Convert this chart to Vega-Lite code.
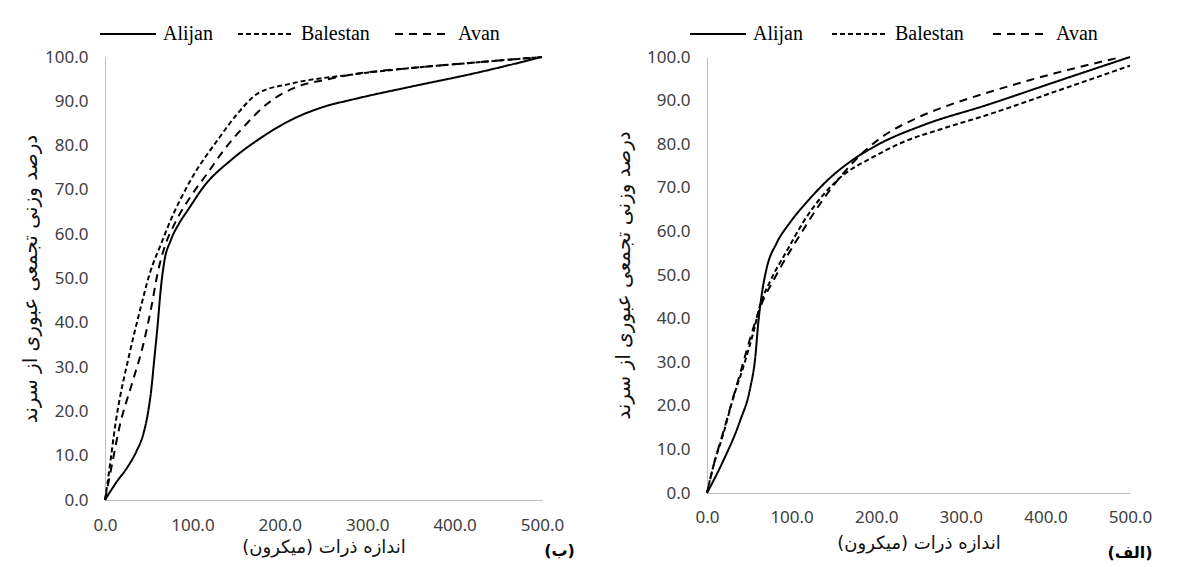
{
  "$schema": "https://vega.github.io/schema/vega-lite/v6.json",
  "background": "white",
  "padding": {"left": 20, "top": 5, "right": 0, "bottom": 0},
  "datasets": {
    "left": [
      {"series": "Alijan", "x": 0, "y": 0},
      {"series": "Alijan", "x": 13, "y": 4},
      {"series": "Alijan", "x": 26, "y": 7.5},
      {"series": "Alijan", "x": 36, "y": 11},
      {"series": "Alijan", "x": 44, "y": 15},
      {"series": "Alijan", "x": 49, "y": 19.5},
      {"series": "Alijan", "x": 53, "y": 25},
      {"series": "Alijan", "x": 56, "y": 31},
      {"series": "Alijan", "x": 60, "y": 39},
      {"series": "Alijan", "x": 64, "y": 48},
      {"series": "Alijan", "x": 68, "y": 54},
      {"series": "Alijan", "x": 75, "y": 58.5},
      {"series": "Alijan", "x": 85, "y": 62.5},
      {"series": "Alijan", "x": 95, "y": 65.5},
      {"series": "Alijan", "x": 114, "y": 71},
      {"series": "Alijan", "x": 144, "y": 76.7},
      {"series": "Alijan", "x": 175, "y": 81.3},
      {"series": "Alijan", "x": 213, "y": 85.8},
      {"series": "Alijan", "x": 251, "y": 88.8},
      {"series": "Alijan", "x": 281, "y": 90.3},
      {"series": "Alijan", "x": 350, "y": 93.3},
      {"series": "Alijan", "x": 420, "y": 96.2},
      {"series": "Alijan", "x": 500, "y": 100},
      {"series": "Balestan", "x": 0, "y": 0},
      {"series": "Balestan", "x": 3, "y": 4},
      {"series": "Balestan", "x": 12.6, "y": 18},
      {"series": "Balestan", "x": 28, "y": 33},
      {"series": "Balestan", "x": 39, "y": 42},
      {"series": "Balestan", "x": 51, "y": 51},
      {"series": "Balestan", "x": 66, "y": 58.7},
      {"series": "Balestan", "x": 72, "y": 61.7},
      {"series": "Balestan", "x": 98, "y": 72.2},
      {"series": "Balestan", "x": 129, "y": 81.3},
      {"series": "Balestan", "x": 152, "y": 87.3},
      {"series": "Balestan", "x": 175, "y": 91.8},
      {"series": "Balestan", "x": 213, "y": 94},
      {"series": "Balestan", "x": 281, "y": 96},
      {"series": "Balestan", "x": 350, "y": 97.5},
      {"series": "Balestan", "x": 420, "y": 98.7},
      {"series": "Balestan", "x": 500, "y": 100},
      {"series": "Avan", "x": 0, "y": 0},
      {"series": "Avan", "x": 8, "y": 8},
      {"series": "Avan", "x": 16, "y": 16},
      {"series": "Avan", "x": 32, "y": 27},
      {"series": "Avan", "x": 43, "y": 34.5},
      {"series": "Avan", "x": 53, "y": 43.5},
      {"series": "Avan", "x": 60, "y": 51},
      {"series": "Avan", "x": 68, "y": 57},
      {"series": "Avan", "x": 80, "y": 62.5},
      {"series": "Avan", "x": 98, "y": 68.5},
      {"series": "Avan", "x": 117, "y": 73.7},
      {"series": "Avan", "x": 136, "y": 79},
      {"series": "Avan", "x": 159, "y": 84.3},
      {"series": "Avan", "x": 186, "y": 89.5},
      {"series": "Avan", "x": 220, "y": 93.3},
      {"series": "Avan", "x": 251, "y": 94.8},
      {"series": "Avan", "x": 281, "y": 96},
      {"series": "Avan", "x": 350, "y": 97.5},
      {"series": "Avan", "x": 420, "y": 98.7},
      {"series": "Avan", "x": 500, "y": 100}
    ],
    "right": [
      {"series": "Alijan", "x": 0, "y": 0},
      {"series": "Alijan", "x": 19, "y": 7.3},
      {"series": "Alijan", "x": 39, "y": 16.5},
      {"series": "Alijan", "x": 51, "y": 24},
      {"series": "Alijan", "x": 57, "y": 31},
      {"series": "Alijan", "x": 60.6, "y": 39},
      {"series": "Alijan", "x": 64.7, "y": 45.5},
      {"series": "Alijan", "x": 70.6, "y": 51.6},
      {"series": "Alijan", "x": 82, "y": 57.2},
      {"series": "Alijan", "x": 98, "y": 62},
      {"series": "Alijan", "x": 122, "y": 67.6},
      {"series": "Alijan", "x": 145, "y": 72.2},
      {"series": "Alijan", "x": 173, "y": 76.5},
      {"series": "Alijan", "x": 201, "y": 79.8},
      {"series": "Alijan", "x": 256, "y": 84.4},
      {"series": "Alijan", "x": 331, "y": 89},
      {"series": "Alijan", "x": 415, "y": 94.5},
      {"series": "Alijan", "x": 500, "y": 100},
      {"series": "Balestan", "x": 0, "y": 0},
      {"series": "Balestan", "x": 7, "y": 5.8},
      {"series": "Balestan", "x": 19, "y": 13.4},
      {"series": "Balestan", "x": 31, "y": 21.8},
      {"series": "Balestan", "x": 45, "y": 30.2},
      {"series": "Balestan", "x": 55, "y": 37},
      {"series": "Balestan", "x": 63, "y": 43.2},
      {"series": "Balestan", "x": 74.5, "y": 48.5},
      {"series": "Balestan", "x": 94, "y": 55.4},
      {"series": "Balestan", "x": 114, "y": 62.2},
      {"series": "Balestan", "x": 137.5, "y": 68.4},
      {"series": "Balestan", "x": 161, "y": 72.9},
      {"series": "Balestan", "x": 193, "y": 76.7},
      {"series": "Balestan", "x": 232, "y": 80.5},
      {"series": "Balestan", "x": 279, "y": 83.6},
      {"series": "Balestan", "x": 331, "y": 86.7},
      {"series": "Balestan", "x": 415, "y": 92.3},
      {"series": "Balestan", "x": 500, "y": 98},
      {"series": "Avan", "x": 0, "y": 0},
      {"series": "Avan", "x": 8, "y": 6.5},
      {"series": "Avan", "x": 20, "y": 14.5},
      {"series": "Avan", "x": 40, "y": 28},
      {"series": "Avan", "x": 55, "y": 38},
      {"series": "Avan", "x": 62.6, "y": 42.4},
      {"series": "Avan", "x": 82, "y": 50},
      {"series": "Avan", "x": 110, "y": 59.2},
      {"series": "Avan", "x": 137.5, "y": 67.4},
      {"series": "Avan", "x": 161, "y": 73.3},
      {"series": "Avan", "x": 185, "y": 78.2},
      {"series": "Avan", "x": 208, "y": 81.8},
      {"series": "Avan", "x": 248, "y": 86},
      {"series": "Avan", "x": 291, "y": 89.3},
      {"series": "Avan", "x": 331, "y": 91.8},
      {"series": "Avan", "x": 410, "y": 96.2},
      {"series": "Avan", "x": 490, "y": 100}
    ]
  },
  "spacing": 38,
  "hconcat": [
    {
      "width": 437,
      "height": 443,
      "layer": [
        {
          "data": {"name": "left"},
          "mark": {"type": "line", "interpolate": "monotone", "color": "black", "strokeWidth": 2},
          "encoding": {
            "x": {"field": "x", "type": "quantitative", "scale": {"domain": [0, 500], "nice": false},
              "axis": {"values": [0, 100, 200, 300, 400, 500], "format": ".1f", "title": "اندازه ذرات (میکرون)", "labelPadding": 17, "titlePadding": 5}},
            "y": {"field": "y", "type": "quantitative", "scale": {"domain": [0, 100], "nice": false},
              "axis": {"values": [0, 10, 20, 30, 40, 50, 60, 70, 80, 90, 100], "format": ".1f", "title": "درصد وزنی تجمعی عبوری از سرند", "labelPadding": 17, "titlePadding": 4}},
            "strokeDash": {"field": "series", "type": "nominal",
              "scale": {"domain": ["Alijan", "Balestan", "Avan"], "range": [[1, 0], [5, 3], [8, 6]]},
              "legend": {"orient": "none", "legendX": -6, "legendY": -52, "direction": "horizontal", "columns": 3, "title": null, "columnPadding": 21}},
            "order": {"field": "x", "type": "quantitative"}
          }
        },
        {
          "data": {"values": [{"label": "(ب)"}]},
          "mark": {"type": "text", "font": "DejaVu Sans", "fontSize": 16, "fontWeight": "bold", "color": "black", "align": "center", "baseline": "middle"},
          "encoding": {
            "x": {"datum": 520, "type": "quantitative"},
            "y": {"datum": -11.5, "type": "quantitative"},
            "text": {"field": "label"}
          }
        }
      ]
    },
    {
      "width": 423,
      "height": 436,
      "layer": [
        {
          "data": {"name": "right"},
          "mark": {"type": "line", "interpolate": "monotone", "color": "black", "strokeWidth": 2},
          "encoding": {
            "x": {"field": "x", "type": "quantitative", "scale": {"domain": [0, 500], "nice": false},
              "axis": {"values": [0, 100, 200, 300, 400, 500], "format": ".1f", "title": "اندازه ذرات (میکرون)", "labelPadding": 16, "titlePadding": 9}},
            "y": {"field": "y", "type": "quantitative", "scale": {"domain": [0, 100], "nice": false},
              "axis": {"values": [0, 10, 20, 30, 40, 50, 60, 70, 80, 90, 100], "format": ".1f", "title": "درصد وزنی تجمعی عبوری از سرند", "labelPadding": 17, "titlePadding": 13}},
            "strokeDash": {"field": "series", "type": "nominal",
              "scale": {"domain": ["Alijan", "Balestan", "Avan"], "range": [[1, 0], [5, 3], [8, 6]]},
              "legend": {"orient": "none", "legendX": -18, "legendY": -52, "direction": "horizontal", "columns": 3, "title": null, "columnPadding": 25}},
            "order": {"field": "x", "type": "quantitative"}
          }
        },
        {
          "data": {"values": [{"label": "(الف)"}]},
          "mark": {"type": "text", "font": "DejaVu Sans", "fontSize": 16, "fontWeight": "bold", "color": "black", "align": "center", "baseline": "middle"},
          "encoding": {
            "x": {"datum": 500, "type": "quantitative"},
            "y": {"datum": -13.7, "type": "quantitative"},
            "text": {"field": "label"}
          }
        }
      ]
    }
  ],
  "resolve": {"scale": {"strokeDash": "independent"}, "legend": {"strokeDash": "independent"}},
  "config": {
    "view": {"stroke": null},
    "axis": {"domainColor": "#bfbfbf", "domainWidth": 1, "ticks": false, "grid": false, "labelFlush": false,
      "labelFont": "Noto Sans", "labelFontSize": 17, "labelColor": "#404040",
      "titleFont": "DejaVu Sans", "titleFontSize": 18, "titleFontWeight": "normal", "titleColor": "#111111"},
    "axisY": {"titleFontSize": 20},
    "legend": {"symbolType": "stroke", "symbolSize": 3136, "symbolStrokeWidth": 2, "symbolStrokeColor": "black",
      "labelFont": "Liberation Serif", "labelFontSize": 20, "labelColor": "black", "labelOffset": 6,
      "padding": 0, "labelLimit": 300}
  }
}
